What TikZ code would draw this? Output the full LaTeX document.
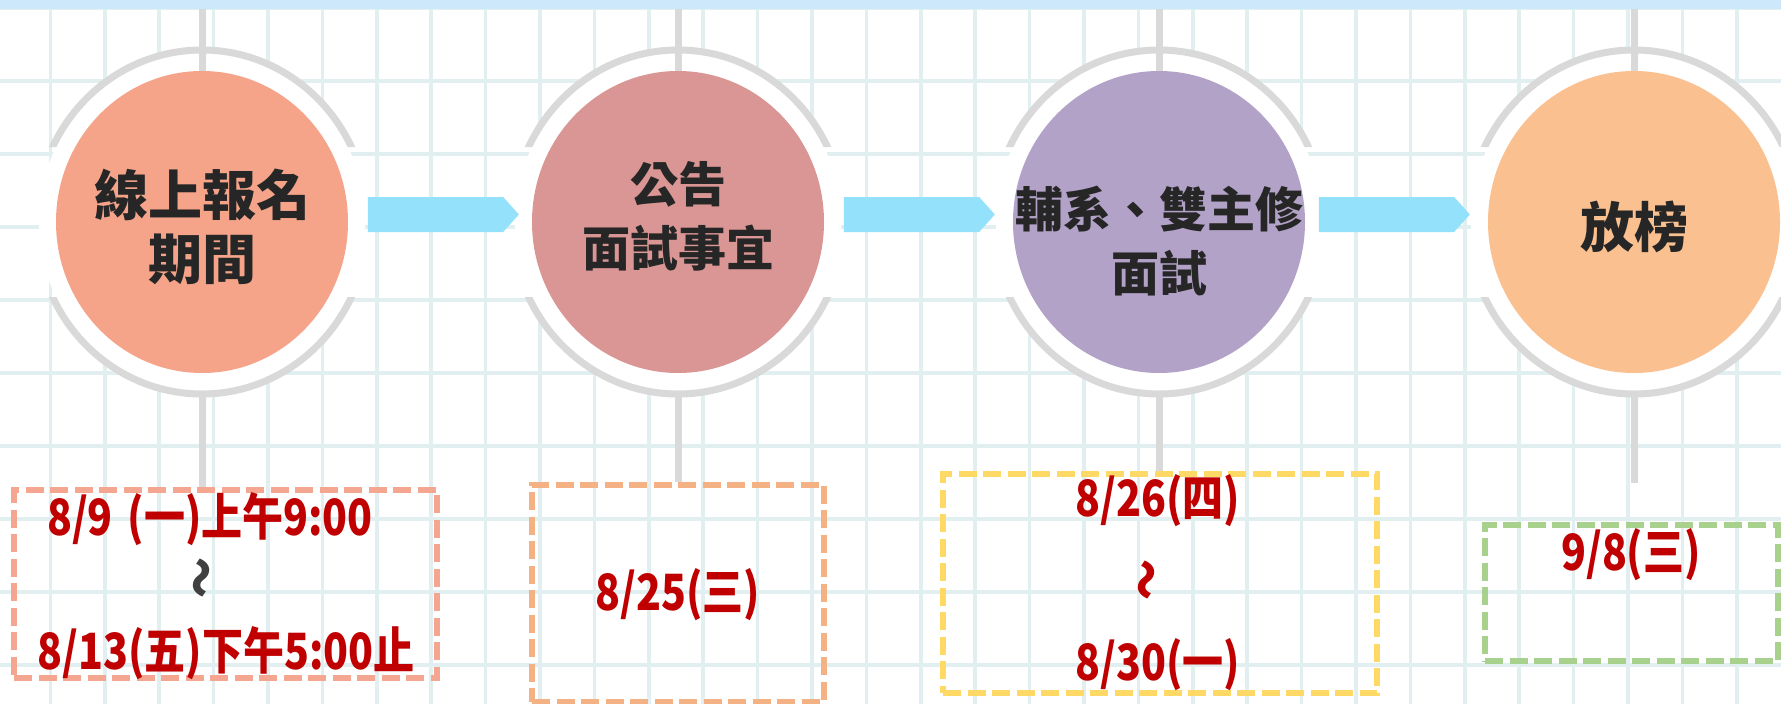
\documentclass[tikz,border=0pt]{standalone}
\usepackage{fontspec}
\usetikzlibrary{shapes.geometric,shapes.symbols}
\newfontfamily\cjk{Noto Sans CJK TC}
\newfontfamily\cjknarrow{Noto Sans CJK TC}[FakeStretch=0.82]

\definecolor{ringgray}{HTML}{D9D9D9}
\definecolor{gridblue}{HTML}{E1EFF1}
\definecolor{bandblue}{HTML}{CDE8FA}
\definecolor{flowblue}{HTML}{93E1FB}
\definecolor{stagetext}{HTML}{262626}
\definecolor{datered}{HTML}{C00000}
\definecolor{wavegray}{HTML}{404040}
\definecolor{stageA}{HTML}{F5A48A}
\definecolor{stageB}{HTML}{D99694}
\definecolor{stageC}{HTML}{B3A2C7}
\definecolor{stageD}{HTML}{FAC090}
\definecolor{boxA}{HTML}{F5A691}
\definecolor{boxB}{HTML}{F4B183}
\definecolor{boxC}{HTML}{FFD966}
\definecolor{boxD}{HTML}{A9D18E}

\tikzset{
  stage/.style={ellipse, inner sep=0pt, minimum width=292pt, minimum height=302pt},
  stagelabel/.style={align=center, text=stagetext, font=\cjk\bfseries\fontsize{48}{64}\selectfont},
  biglabel/.style={stagelabel, font=\cjk\bfseries\fontsize{54}{64}\selectfont},
  ring/.style={draw=ringgray, line width=7pt},
  stem/.style={draw=ringgray, line width=7pt},
  gridline/.style={draw=gridblue, line width=3.5pt},
  flow/.style={signal, signal to=east, signal pointer angle=96, fill=flowblue,
    inner sep=0pt, minimum width=151pt, minimum height=35pt},
  datebox/.style={rectangle, draw=#1, line width=6pt, dash pattern=on 18pt off 6.5pt, inner sep=0pt},
  datetext/.style={text=datered, font=\cjknarrow\bfseries\fontsize{50}{56}\selectfont, inner sep=0pt},
  wave/.style={datetext, rotate=90}
}

\begin{document}
\begin{tikzpicture}[x=1pt, y=-1pt]
  \clip (0,0) rectangle (1781,704);
  \fill [white] (0,0) rectangle (1781,704);

  % background grid
  \foreach \k in {1,...,33}
    \draw [gridline] ({-4+54.4*\k},0) -- ++(0,704);
  \foreach \k in {0,...,9}
    \draw [gridline] (0,{8+73*\k}) -- ++(1781,0);
  \fill [bandblue] (0,0) rectangle (1781,9);
  \coordinate (top) at (0,9);

  % rings round the stages
  \foreach \cx in {202,678,1159,1634} {
    \fill [white] (\cx,222) ellipse [x radius=163, y radius=169];
    \begin{scope}
      \clip (\cx-200,0) rectangle (\cx+200,147) (\cx-200,297) rectangle (\cx+200,704);
      \draw [ring] (\cx,222) ellipse [x radius=166, y radius=172];
    \end{scope}
  }

  \node [stage, fill=stageA] (s1) at (202,222) {};
  \node [stage, fill=stageB] (s2) at (678,222) {};
  \node [stage, fill=stageC] (s3) at (1159,222) {};
  \node [stage, fill=stageD] (s4) at (1634,222) {};

  \node [biglabel] at (202,227) {線上報名\\期間};
  \node [stagelabel] at (678,216) {公告\\面試事宜};
  \node [stagelabel] at (1159,241) {輔系、雙主修\\面試};
  \node [biglabel] at (1634,227) {放榜};

  \node [flow] (a1) at (435.5,214.5) {};
  \node [flow] (a2) at (911.5,214.5) {};
  \node [flow] (a3) at (1386.5,214.5) {};

  % dates
  \node [datebox=boxA, minimum width=423pt, minimum height=188pt] (d1) at (225.5,584) {};
  \node [datebox=boxB, minimum width=292pt, minimum height=217pt] (d2) at (678,593) {};
  \node [datebox=boxC, minimum width=434pt, minimum height=219pt] (d3) at (1160,583.5) {};
  \node [datebox=boxD, minimum width=293pt, minimum height=136pt] (d4) at (1631.5,593) {};

  \draw [stem] (s1 |- top) -- (s1.north) ++(0,-23);
  \draw [stem] (s2 |- top) -- (s2.north) ++(0,-23);
  \draw [stem] (s3 |- top) -- (s3.north) ++(0,-23);
  \draw [stem] (s4 |- top) -- (s4.north) ++(0,-23);
  \draw [stem] (s1.south) ++(0,22) -- (s1 |- d1.north);
  \draw [stem] (s2.south) ++(0,22) -- (s2 |- d2.north);
  \draw [stem] (s3.south) ++(0,22) -- (s3 |- d3.north);
  \draw [stem] (s4.south) ++(0,22) -- (s4.south |- 0,483);

  \node [datetext] (t1a) at (210,519) {8/9\hspace{0.3em}(一)上午9:00};
  \node [wave, text=wavegray] (t1b) at (207,578) {～};
  \node [datetext] (t1c) at (226,653) {8/13(五)下午5:00止};
  \node [datetext] (t2) at (678,595) {8/25(三)};
  \node [datetext] (t3a) at (1158,501) {8/26(四)};
  \node [wave] (t3b) at (1152,580) {～};
  \node [datetext] (t3c) at (1158,665) {8/30(一)};
  \node [datetext] (t4) at (1631,555) {9/8(三)};
\end{tikzpicture}
\end{document}
